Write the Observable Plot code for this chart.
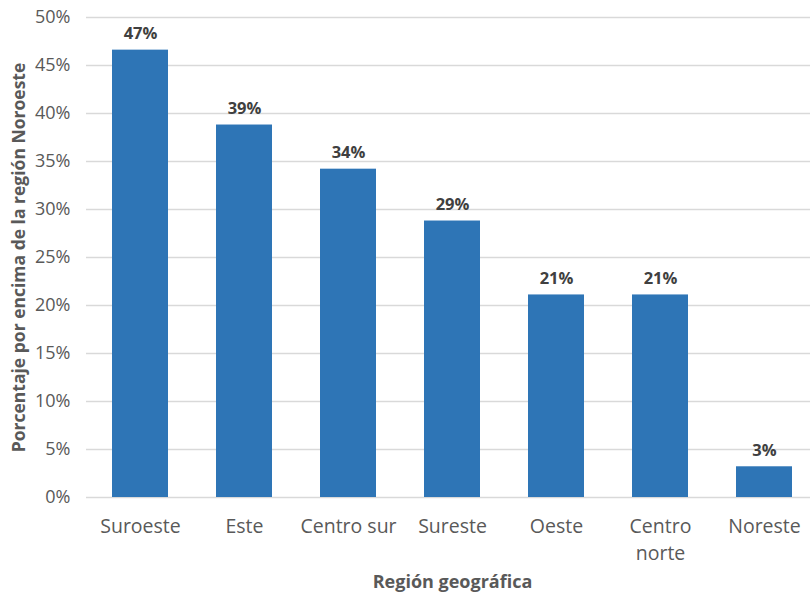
<!DOCTYPE html>
<html>
<head>
<meta charset="utf-8">
<script src="https://cdn.jsdelivr.net/npm/d3@7"></script>
<script src="https://cdn.jsdelivr.net/npm/@observablehq/plot@0.6"></script>
<style>
  html, body { margin: 0; padding: 0; background: #fff; }
  #chart { width: 810px; height: 594px; }
</style>
</head>
<body>
<div id="chart"></div>
<script>
const regions = ["Suroeste", "Este", "Centro sur", "Sureste", "Oeste", "Centro norte", "Noreste"];
const values = [46.6, 38.8, 34.2, 28.8, 21.1, 21.1, 3.2];
const valueLabels = ["47%", "39%", "34%", "29%", "21%", "21%", "3%"];
const yTicks = [0, 5, 10, 15, 20, 25, 30, 35, 40, 45, 50];
const tickText = {"Centro norte": "Centro\nnorte"};

const data = regions.map((r, i) => ({region: r, value: values[i], label: valueLabels[i]}));

const font = "'Open Sans', sans-serif";

const chart = Plot.plot({
  width: 810,
  height: 594,
  marginTop: 17,
  marginBottom: 97,
  marginLeft: 86,
  marginRight: 0,
  style: {fontFamily: font, background: "#fff"},
  x: {domain: regions, range: [87, 817], paddingInner: 0.46, paddingOuter: 0.23, label: null},
  y: {domain: [0, 50], label: null},
  marks: [
    Plot.ruleY(yTicks, {stroke: "#d9d9d9", strokeWidth: 1.3}),
    Plot.barY(data, {x: "region", y: "value", fill: "#2e75b6"}),
    Plot.text(data, {x: "region", y: "value", text: "label", dy: -16, lineAnchor: "middle",
      fontWeight: "bold", fontSize: 16.5, fill: "#404040"}),
    Plot.axisY(yTicks, {tickSize: 0, tickPadding: 16, tickFormat: d => d + "%",
      fontSize: 18, fill: "#595959", label: null}),
    Plot.axisX({tickSize: 0, tickPadding: 17, tickFormat: d => tickText[d] || d,
      fontSize: 19.5, fill: "#595959", lineHeight: 1.37, label: null}),
    Plot.text(["Región geográfica"], {frameAnchor: "bottom", dx: 4, dy: 85, lineAnchor: "middle",
      fontWeight: "bold", fontSize: 18, fill: "#595959"}),
    Plot.text(["Porcentaje por encima de la región Noroeste"], {frameAnchor: "left", dx: -67, rotate: -90,
      textAnchor: "middle", lineAnchor: "middle", fontWeight: "bold", fontSize: 17.5, fill: "#595959"})
  ]
});
document.getElementById("chart").appendChild(chart);
</script>
</body>
</html>
